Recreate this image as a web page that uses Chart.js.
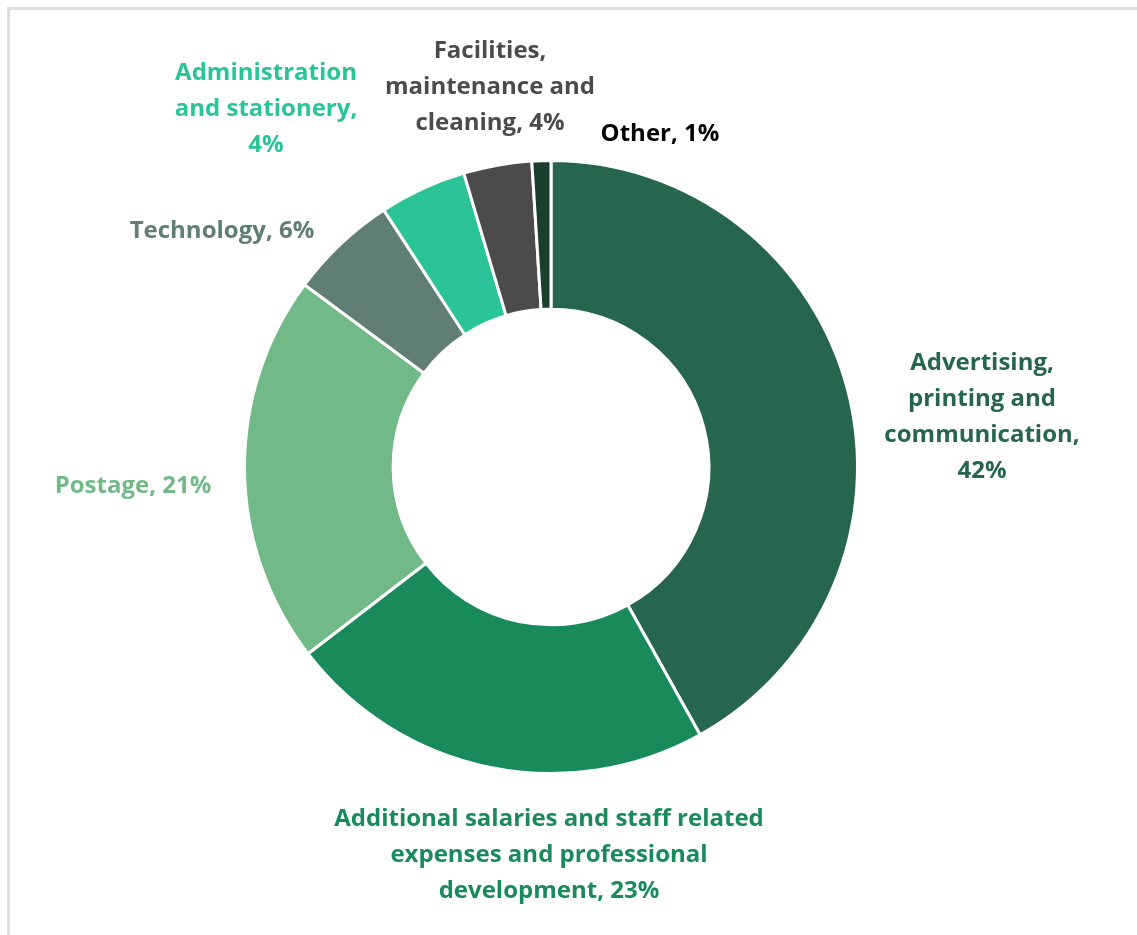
<!DOCTYPE html>
<html>
<head>
<meta charset="utf-8">
<script src="https://cdn.jsdelivr.net/npm/chart.js@4.4.1/dist/chart.umd.min.js"></script>
<style>
    html, body { margin: 0; padding: 0; background: #fff; }
    #wrap { position: relative; width: 1137px; height: 935px; overflow: hidden; }
    #frame {
        position: absolute; left: 7px; top: 7px; right: -10px; bottom: -10px;
        border-top: 3px solid #dedede; border-left: 3px solid #dedede;
    }
    canvas { position: absolute; left: 0; top: 0; }
</style>
</head>
<body>
<div id="wrap">
    <div id="frame"></div>
    <canvas id="chart" width="1137" height="935"></canvas>
</div>
<script>
// ── Datos ──────────────────────────────────────────────
const categories = [
    'Advertising, printing and communication',
    'Additional salaries and staff related expenses and professional development',
    'Postage',
    'Technology',
    'Administration and stationery',
    'Facilities, maintenance and cleaning',
    'Other'
];
const shares = [42.0, 22.7, 20.6, 5.7, 4.6, 3.6, 1.0];
const shareLabels = ['42%', '23%', '21%', '6%', '4%', '4%', '1%'];

// Texto de etiqueta por líneas (como en el original)
const labelLines = [
    ['Advertising,', 'printing and', 'communication,', '42%'],
    ['Additional salaries and staff related', 'expenses and professional', 'development, 23%'],
    ['Postage, 21%'],
    ['Technology, 6%'],
    ['Administration', 'and stationery,', '4%'],
    ['Facilities,', 'maintenance and', 'cleaning, 4%'],
    ['Other, 1%']
];

const sliceColors = ['#26664f', '#188a5c', '#71ba87', '#607e73', '#2ac497', '#4b4b4b', '#1a3f2f'];
const labelColors = ['#26664f', '#188a5c', '#71ba87', '#607e73', '#2ac497', '#4b4b4b', '#000000'];

// Posición del bloque de texto relativa al centro de la dona
const labelOffsets = [
    [431, -50], [-2, 388], [-418, 19], [-329, -236], [-285, -358], [-61, -380], [109, -333]
];

const FONT = 'bold 24px "Open Sans", Lato, sans-serif';
const LINE_H = 36;

// ── Plugin de etiquetas ───────────────────────────────
const outsideLabels = {
    id: 'outsideLabels',
    afterDatasetsDraw(chart) {
        const ctx = chart.ctx;
        const arcs = chart.getDatasetMeta(0).data;
        if (!arcs.length) return;
        const cx = arcs[0].x, cy = arcs[0].y;
        ctx.save();
        ctx.font = FONT;
        ctx.textAlign = 'center';
        ctx.textBaseline = 'middle';
        labelLines.forEach((lines, i) => {
            const [dx, dy] = labelOffsets[i];
            const top = cy + dy - (lines.length - 1) * LINE_H / 2;
            ctx.fillStyle = labelColors[i];
            lines.forEach((ln, j) => ctx.fillText(ln, cx + dx, top + j * LINE_H));
        });
        ctx.restore();
    }
};

new Chart(document.getElementById('chart'), {
    type: 'doughnut',
    data: {
        labels: categories,
        datasets: [{
            data: shares,
            backgroundColor: sliceColors,
            borderColor: '#ffffff',
            borderWidth: 3
        }]
    },
    options: {
        responsive: false,
        animation: false,
        cutout: '51.5%',
        layout: { padding: { left: 243, right: 278, top: 159, bottom: 160 } },
        plugins: {
            legend: { display: false },
            tooltip: { enabled: false }
        }
    },
    plugins: [outsideLabels]
});
</script>
</body>
</html>
